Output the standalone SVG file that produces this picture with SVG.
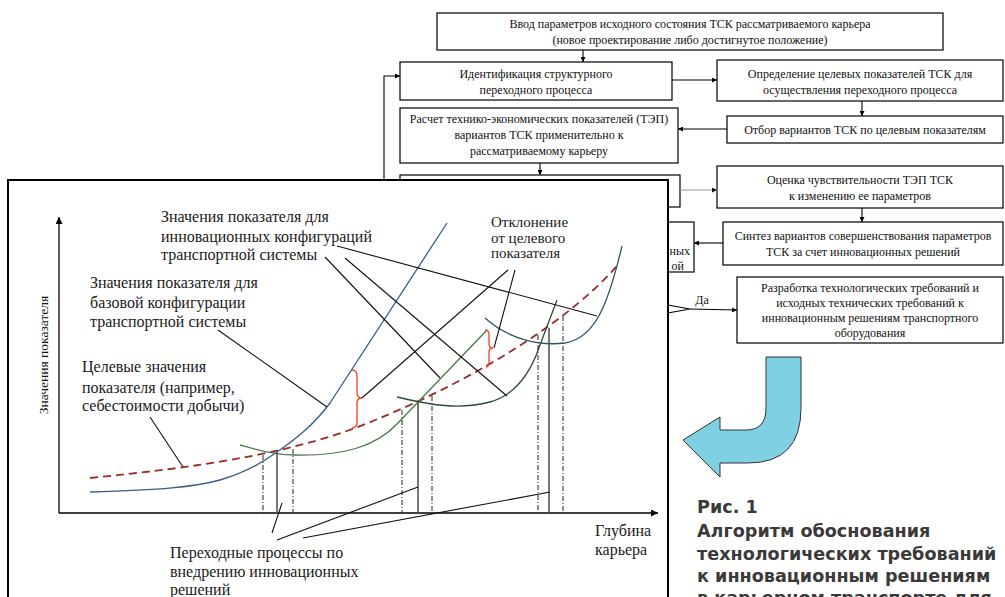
<svg xmlns="http://www.w3.org/2000/svg" width="1005" height="597" viewBox="0 0 1005 597">
<defs>
<marker id="ah" viewBox="0 0 10 10" refX="10" refY="5" markerWidth="6" markerHeight="5" orient="auto" markerUnits="userSpaceOnUse"><path d="M0,0 L10,5 L0,10 z" fill="#000"/></marker>
<marker id="ahg" viewBox="0 0 10 10" refX="10" refY="5" markerWidth="6" markerHeight="5" orient="auto" markerUnits="userSpaceOnUse"><path d="M0,0 L10,5 L0,10 z" fill="#111"/></marker>
<marker id="axh" viewBox="0 0 10 10" refX="10" refY="5" markerWidth="9" markerHeight="7" orient="auto" markerUnits="userSpaceOnUse"><path d="M0,0 L10,5 L0,10 z" fill="#000"/></marker>
</defs>
<style>
.box{fill:#fff;stroke:#000;stroke-width:1.2}
.ft{font-family:"Liberation Serif","Times New Roman",serif;font-size:12px;fill:#111;text-anchor:middle}
.conn{fill:none;stroke:#000;stroke-width:1.1}
.gl{font-family:"Liberation Serif","Times New Roman",serif;font-size:16px;fill:#1a1a1a}
.lead{stroke:#111;stroke-width:1.1;fill:none}
.dd{stroke:#222;stroke-width:1;stroke-dasharray:5,2,1,2;fill:none}
.sv{stroke:#555;stroke-width:1.6;fill:none}
.cap{font-family:"DejaVu Sans","Liberation Sans",sans-serif;font-weight:bold;font-size:17.6px;fill:#3a3a3a}
</style>
<rect width="1005" height="597" fill="#fff"/>

<g id="node-input">
<rect class="box" x="437" y="13" width="506" height="37"/>
<text class="ft" x="690" y="28">Ввод параметров исходного состояния ТСК рассматриваемого карьера</text>
<text class="ft" x="690" y="44">(новое проектирование либо достигнутое положение)</text>
</g>
<g id="node-ident">
<rect class="box" x="400" y="62" width="272" height="38"/>
<text class="ft" x="536" y="78">Идентификация структурного</text>
<text class="ft" x="536" y="94">переходного процесса</text>
</g>
<g id="node-target">
<rect class="box" x="717" y="60" width="286" height="41"/>
<text class="ft" x="860" y="78">Определение целевых показателей ТСК для</text>
<text class="ft" x="860" y="94">осуществления переходного процесса</text>
</g>
<g id="node-select">
<rect class="box" x="727" y="116" width="276" height="27"/>
<text class="ft" x="865" y="134">Отбор вариантов ТСК по целевым показателям</text>
</g>
<g id="node-calc">
<rect class="box" x="400" y="108" width="278" height="55"/>
<text class="ft" x="539" y="123">Расчет технико-экономических показателей (ТЭП)</text>
<text class="ft" x="539" y="139">вариантов ТСК применительно к</text>
<text class="ft" x="539" y="155">рассматриваемому карьеру</text>
</g>
<g id="node-hidden1">
<rect class="box" x="400" y="175" width="280" height="32"/>
</g>
<g id="node-sens">
<rect class="box" x="717" y="166" width="286" height="42"/>
<text class="ft" x="860" y="184">Оценка чувствительности ТЭП ТСК</text>
<text class="ft" x="860" y="200">к изменению ее параметров</text>
</g>
<g id="node-synth">
<rect class="box" x="723" y="222" width="280" height="43"/>
<text class="ft" x="863" y="240">Синтез вариантов совершенствования параметров</text>
<text class="ft" x="863" y="256">ТСК за счет инновационных решений</text>
</g>
<g id="node-hidden2">
<rect class="box" x="560" y="222" width="134" height="50"/>
<text class="ft" x="690" y="255" style="text-anchor:end">ных</text>
<text class="ft" x="684" y="270" style="text-anchor:end">ой</text>
</g>
<g id="node-dev">
<rect class="box" x="737" y="277" width="266" height="66"/>
<text class="ft" x="870" y="292">Разработка технологических требований и</text>
<text class="ft" x="870" y="307">исходных технических требований к</text>
<text class="ft" x="870" y="322">инновационным решениям транспортного</text>
<text class="ft" x="870" y="337">оборудования</text>
</g>

<g id="connectors">
<line class="conn" x1="583" y1="50" x2="583" y2="62" marker-end="url(#ah)"/>
<line class="conn" x1="672" y1="80" x2="717" y2="80" marker-end="url(#ah)"/>
<line class="conn" x1="862" y1="101" x2="862" y2="116" marker-end="url(#ah)"/>
<line class="conn" x1="727" y1="129" x2="678" y2="129" marker-end="url(#ah)"/>
<line class="conn" x1="540" y1="163" x2="540" y2="175" marker-end="url(#ah)"/>
<polyline class="conn" points="384,230 384,76 400,76" marker-end="url(#ah)"/>
<line x1="680" y1="190" x2="717" y2="190" stroke="#999" stroke-width="1.1" marker-end="url(#ahg)"/>
<line class="conn" x1="862" y1="208" x2="862" y2="222" marker-end="url(#ah)"/>
<line class="conn" x1="723" y1="243" x2="694" y2="243" marker-end="url(#ah)"/>
<polyline class="conn" points="640,300 690,309 640,318"/>
<line class="conn" x1="690" y1="309" x2="737" y2="310" marker-end="url(#ah)"/>
<text class="ft" x="702" y="304">Да</text>
</g>

<g id="graph-panel">
<rect x="8" y="180" width="660" height="430" fill="#fff" stroke="#000" stroke-width="2"/>
<line x1="59" y1="513" x2="59" y2="217" stroke="#000" stroke-width="1.3" marker-end="url(#axh)"/>
<line x1="59" y1="513" x2="658" y2="513" stroke="#000" stroke-width="1.3" marker-end="url(#axh)"/>
<text x="48" y="355" transform="rotate(-90 48 355)" style="font-family:'Liberation Serif',serif;font-size:13.5px;fill:#111;text-anchor:middle">Значения показателя</text>
<text class="gl" x="595" y="536">Глубина</text>
<text class="gl" x="595" y="555">карьера</text>

<path d="M90,478 C200,467 300,453 380,418 C460,385 560,330 617,266" fill="none" stroke="#9a2b25" stroke-width="1.8" stroke-dasharray="8,5"/>
<path d="M90,492 C160,490 195,487 220,480 C245,473 262,463 277,452 C300,436 315,423 330,403 L447,223" fill="none" stroke="#3b5a8a" stroke-width="1.3"/>
<path d="M240,445 C258,450 275,455 295,455 C340,456 375,448 398,423 L486,331" fill="none" stroke="#4a7a4a" stroke-width="1.3"/>
<path d="M397,397 C430,405 460,410 490,402 C515,395 530,375 540,345 L557,300" fill="none" stroke="#2f4a3a" stroke-width="1.3"/>
<path d="M485,318 C510,340 540,346 565,343 C595,338 608,305 622,246" fill="none" stroke="#2e5566" stroke-width="1.3"/>

<path d="M352,370 Q357,370 357,376 L357,393 Q357,398 362,398 Q357,398 357,403 L357,422 Q357,428 352,428" fill="none" stroke="#ff3b1f" stroke-width="1.3"/>
<path d="M485,330 Q489,330 489,335 L489,344 Q489,348 493,348 Q489,348 489,352 L489,362 Q489,367 486,367" fill="none" stroke="#ff3b1f" stroke-width="1.3"/>

<line class="sv" x1="277" y1="452" x2="277" y2="513"/>
<line class="dd" x1="263" y1="455" x2="263" y2="513"/>
<line class="dd" x1="293" y1="449" x2="293" y2="513"/>
<line class="sv" x1="418" y1="402" x2="418" y2="513"/>
<line class="dd" x1="402" y1="410" x2="402" y2="513"/>
<line class="dd" x1="432" y1="396" x2="432" y2="513"/>
<line class="sv" x1="549" y1="328" x2="549" y2="513"/>
<line class="dd" x1="538" y1="335" x2="538" y2="513"/>
<line class="dd" x1="563" y1="316" x2="563" y2="513"/>

<line class="lead" x1="218" y1="330" x2="327" y2="407"/>
<line class="lead" x1="150" y1="417" x2="183" y2="467"/>
<line class="lead" x1="325" y1="257" x2="440" y2="378"/>
<line class="lead" x1="345" y1="258" x2="507" y2="396"/>
<line class="lead" x1="337" y1="246" x2="597" y2="316"/>
<line class="lead" x1="508" y1="270" x2="362" y2="398"/>
<line class="lead" x1="515" y1="270" x2="494" y2="348"/>
<line class="lead" x1="272" y1="533" x2="282" y2="503"/>
<line class="lead" x1="277" y1="540" x2="418" y2="487"/>
<line class="lead" x1="303" y1="538" x2="550" y2="492"/>

<text class="gl"><tspan x="161" y="222">Значения показателя для</tspan><tspan x="161" y="242">инновационных конфигураций</tspan><tspan x="161" y="260">транспортной системы</tspan></text>
<text class="gl"><tspan x="90" y="288">Значения показателя для</tspan><tspan x="90" y="308">базовой конфигурации</tspan><tspan x="90" y="327">транспортной системы</tspan></text>
<text class="gl"><tspan x="82" y="372">Целевые значения</tspan><tspan x="82" y="393">показателя (например,</tspan><tspan x="82" y="411">себестоимости добычи)</tspan></text>
<text class="gl" style="font-size:15px"><tspan x="491" y="227">Отклонение</tspan><tspan x="491" y="243">от целевого</tspan><tspan x="491" y="258">показателя</tspan></text>
<text class="gl"><tspan x="170" y="558">Переходные процессы по</tspan><tspan x="170" y="577">внедрению инновационных</tspan><tspan x="170" y="595">решений</tspan></text>
</g>

<path d="M766,357 L801,357 L801,408 Q801,463 748,463 L720,463 L720,477 L683,440 L720,417 L720,430 L746,430 Q766,430 766,408 Z" fill="#7fd0e2" stroke="#333" stroke-width="1"/>

<g id="caption">
<text class="cap" x="697" y="513">Рис. 1</text>
<text class="cap" x="697" y="537">Алгоритм обоснования</text>
<text class="cap" x="697" y="560">технологических требований</text>
<text class="cap" x="697" y="582">к инновационным решениям</text>
<text class="cap" x="697" y="604">в карьерном транспорте для</text>
</g>
</svg>
